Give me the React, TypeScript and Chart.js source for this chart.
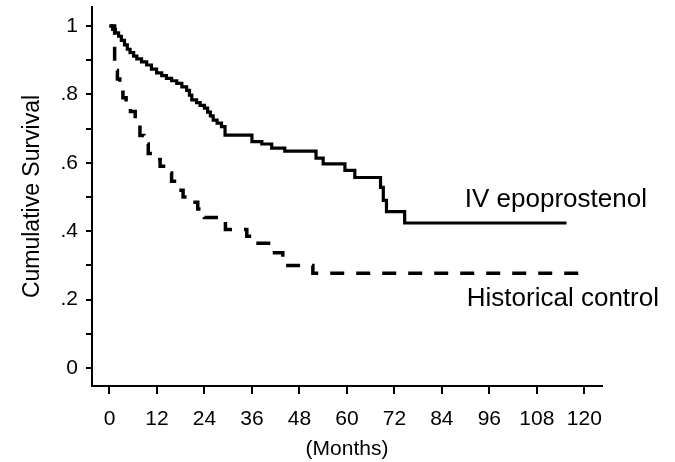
import React, { useEffect, useRef } from 'react';
import { Chart, registerables } from 'chart.js';

Chart.register(...registerables);

const FONT = '"Liberation Sans", Arial, Helvetica, sans-serif';

// Axis ticks
const X_TICKS = [0, 12, 24, 36, 48, 60, 72, 84, 96, 108, 120];
const Y_TICKS = [0, 0.1, 0.2, 0.3, 0.4, 0.5, 0.6, 0.7, 0.8, 0.9, 1.0];
const Y_TICK_LABELS = ['0', '', '.2', '', '.4', '', '.6', '', '.8', '', '1'];

// IV epoprostenol (solid) — Kaplan-Meier steps
const EPO_MONTHS = [
  0, 0.8, 1.5, 2.3, 3.0, 3.8, 4.5, 5.2, 6.1, 6.9, 8.1, 9.4, 10.6, 11.9, 13.2, 14.4,
  15.7, 17.0, 18.3, 19.5, 20.2, 20.8, 22.0, 22.9, 24.0, 24.8, 25.5, 26.2, 27.2, 28.3,
  29.2, 36.0, 38.5, 41.0, 44.3, 52.2, 54.0, 59.5, 62.0, 68.5, 69.2, 70.0, 74.6, 115.5,
];
const EPO_SURVIVAL = [
  1.0, 0.99, 0.98, 0.97, 0.958, 0.945, 0.932, 0.922, 0.912, 0.904, 0.895, 0.886, 0.874, 0.863, 0.855, 0.847,
  0.84, 0.832, 0.822, 0.812, 0.798, 0.784, 0.776, 0.768, 0.76, 0.748, 0.737, 0.725, 0.716, 0.706,
  0.681, 0.662, 0.655, 0.643, 0.634, 0.614, 0.597, 0.578, 0.557, 0.528, 0.49, 0.457, 0.424, 0.424,
];

// Historical control (dashed) — Kaplan-Meier steps
const HIST_MONTHS = [
  0, 1.3, 2.0, 2.6, 3.4, 4.2, 5.3, 6.5, 7.7, 8.7, 9.8, 11.2, 12.8, 14.2, 15.7, 17.2,
  18.6, 20.5, 22.3, 24.0, 29.3, 34.7, 36.8, 40.8, 43.8, 51.4, 118.8,
];
const HIST_SURVIVAL = [
  1.0, 0.87, 0.845, 0.82, 0.79, 0.77, 0.75, 0.72, 0.68, 0.655, 0.627, 0.61, 0.59, 0.57, 0.546, 0.52,
  0.5, 0.485, 0.465, 0.44, 0.405, 0.385, 0.365, 0.337, 0.3, 0.277, 0.277,
];

const SERIES_LABELS = ['IV epoprostenol', 'Historical control'];
// label anchors in data units (month, survival) for the left/baseline of each label
const LABEL_ANCHORS: [number, number][] = [
  [89.8, 0.472],
  [90.3, 0.181],
];

const seriesLabelPlugin = {
  id: 'seriesLabels',
  afterDatasetsDraw(chart: any) {
    const { ctx, scales } = chart;
    const xs = scales.x;
    const ys = scales.y;
    ctx.save();
    ctx.fillStyle = '#000';
    ctx.font = `26px ${FONT}`;
    ctx.textAlign = 'left';
    ctx.textBaseline = 'alphabetic';
    SERIES_LABELS.forEach((t, i) => {
      ctx.fillText(t, xs.getPixelForValue(LABEL_ANCHORS[i][0]), ys.getPixelForValue(LABEL_ANCHORS[i][1]));
    });
    ctx.restore();
  },
};

export default function App() {
  const ref = useRef<HTMLCanvasElement | null>(null);

  useEffect(() => {
    const canvas = ref.current;
    if (!canvas) return;
    const chart = new Chart(canvas, {
      type: 'line',
      data: {
        datasets: [
          {
            label: SERIES_LABELS[0],
            data: EPO_MONTHS.map((m, i) => ({ x: m, y: EPO_SURVIVAL[i] })),
            stepped: true,
            borderColor: '#000',
            borderWidth: 3.2,
            pointRadius: 0,
            fill: false,
            borderCapStyle: 'butt',
            borderJoinStyle: 'miter',
          },
          {
            label: SERIES_LABELS[1],
            data: HIST_MONTHS.map((m, i) => ({ x: m, y: HIST_SURVIVAL[i] })),
            stepped: true,
            borderColor: '#000',
            borderWidth: 3.5,
            borderDash: [14, 12],
            pointRadius: 0,
            fill: false,
            borderCapStyle: 'butt',
            borderJoinStyle: 'miter',
          },
        ],
      },
      options: {
        responsive: false,
        animation: false,
        devicePixelRatio: 1,
        layout: { padding: { top: 7, right: 73, bottom: 0, left: 0 } },
        plugins: {
          legend: { display: false },
          tooltip: { enabled: false },
          title: { display: false },
        },
        scales: {
          x: {
            type: 'linear',
            position: 'bottom',
            min: -4.42,
            max: 124.47,
            afterBuildTicks: (s: any) => {
              s.ticks = X_TICKS.map((v) => ({ value: v }));
            },
            afterFit: (s: any) => {
              s.height = 76;
              s.paddingLeft = 0;
              s.paddingRight = 0;
              s.paddingTop = 0;
              s.paddingBottom = 0;
            },
            grid: {
              display: true,
              drawOnChartArea: false,
              drawTicks: true,
              tickLength: 8,
              lineWidth: 2,
              color: '#000',
            },
            border: { display: true, width: 2, color: '#000' },
            ticks: {
              color: '#000',
              font: { family: FONT, size: 21 },
              padding: 13,
              maxRotation: 0,
              autoSkip: false,
              callback: (v: any) => String(v),
            },
            title: {
              display: true,
              text: '(Months)',
              color: '#000',
              font: { family: FONT, size: 21, lineHeight: 1 },
              padding: { top: 0, bottom: 2 },
            },
          },
          y: {
            type: 'linear',
            min: -0.0526,
            max: 1.0556,
            afterBuildTicks: (s: any) => {
              s.ticks = Y_TICKS.map((v) => ({ value: v }));
            },
            afterFit: (s: any) => {
              s.width = 92;
              s.paddingLeft = 0;
              s.paddingRight = 0;
              s.paddingTop = 0;
              s.paddingBottom = 0;
            },
            grid: {
              display: true,
              drawOnChartArea: false,
              drawTicks: true,
              tickLength: 6,
              lineWidth: 2,
              color: '#000',
            },
            border: { display: true, width: 2, color: '#000' },
            ticks: {
              color: '#000',
              font: { family: FONT, size: 21 },
              padding: 8,
              autoSkip: false,
              callback: (_v: any, i: number) => Y_TICK_LABELS[i],
            },
            title: {
              display: true,
              text: 'Cumulative Survival',
              color: '#000',
              font: { family: FONT, size: 23, lineHeight: 1 },
              padding: { top: 21, bottom: 0 },
            },
          },
        },
      },
      plugins: [seriesLabelPlugin],
    } as any);
    return () => chart.destroy();
  }, []);

  return (
    <div style={{ position: 'fixed', left: 0, top: 0, width: 675, height: 462, background: '#fff' }}>
      <canvas ref={ref} width={675} height={462} style={{ display: 'block', width: 675, height: 462 }} />
    </div>
  );
}
